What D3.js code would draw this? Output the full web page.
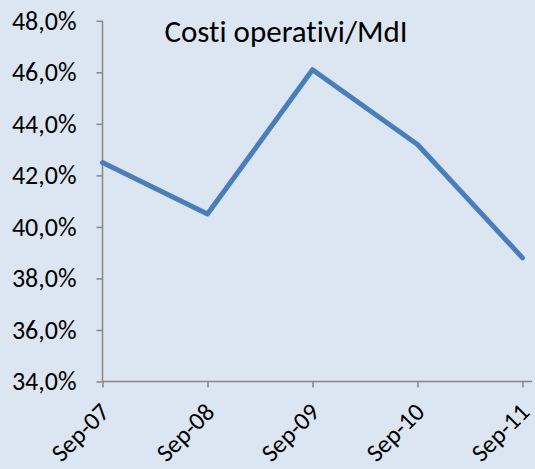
<!DOCTYPE html>
<html><head><meta charset="utf-8">
<script src="https://cdn.jsdelivr.net/npm/d3@7"></script>
<style>
html,body{margin:0;padding:0;background:#dce6f2;}
svg{display:block;}
text{font-family:Carlito,Calibri,"Open Sans",sans-serif;fill:#000;font-variant-ligatures:none;}
</style></head>
<body>
<svg id="chart" width="535" height="469"></svg>
<script>
const categories = ["Sep-07","Sep-08","Sep-09","Sep-10","Sep-11"];
const values = [0.425, 0.405, 0.461, 0.432, 0.388];
const yTicks = [0.34,0.36,0.38,0.40,0.42,0.44,0.46,0.48];
const title = "Costi operativi/MdI";

const svg = d3.select("#chart");
svg.append("rect").attr("width",535).attr("height",469).attr("fill","#dce6f2");

const x = d3.scalePoint().domain(categories).range([102.5, 522.5]);
const y = d3.scaleLinear().domain([0.34, 0.48]).range([381.5, 20.8]);
const fmt = v => d3.format(".1f")(v*100).replace(".", ",") + "%";

const axisColor = "#868686";
const ff = 'Carlito,Calibri,"Open Sans",sans-serif';

// Y axis
const gy = svg.append("g").attr("transform","translate(102.5,0)")
  .call(d3.axisLeft(y).tickValues(yTicks).tickFormat(fmt).tickSize(6).tickPadding(20));
gy.select(".domain").remove();
gy.append("line").attr("x1",0).attr("x2",0).attr("y1",y(0.48)).attr("y2",y(0.34))
  .attr("stroke",axisColor).attr("stroke-width",1.5);
gy.selectAll(".tick line").attr("stroke",axisColor).attr("stroke-width",1.5);
gy.selectAll(".tick text").attr("font-size",26).attr("fill","#000")
  .style("font-family",ff);

// X axis
const gx = svg.append("g").attr("transform",`translate(0,${y(0.34)})`)
  .call(d3.axisBottom(x).tickSize(6).tickPadding(0));
gx.select(".domain").remove();
gx.append("line").attr("x1",x(categories[0])).attr("x2",532).attr("y1",0).attr("y2",0)
  .attr("stroke",axisColor).attr("stroke-width",1.5);
gx.selectAll(".tick line").attr("stroke",axisColor).attr("stroke-width",1.5);
gx.selectAll(".tick text")
  .attr("font-size",25).attr("fill","#000")
  .attr("text-anchor","end")
  .attr("y",0).attr("dy",0)
  .attr("transform","translate(8,32) rotate(-45)")
  .style("font-family",ff);

// Line
const line = d3.line().x((d,i)=>x(categories[i])).y(d=>y(d));
svg.append("path").datum(values).attr("d",line)
  .attr("fill","none").attr("stroke","#4a7ebb").attr("stroke-width",5)
  .attr("stroke-linejoin","round").attr("stroke-linecap","round");

// Title
svg.append("text").attr("x",286).attr("y",42).attr("text-anchor","middle")
  .attr("font-size",31).text(title);
</script>
</body></html>
